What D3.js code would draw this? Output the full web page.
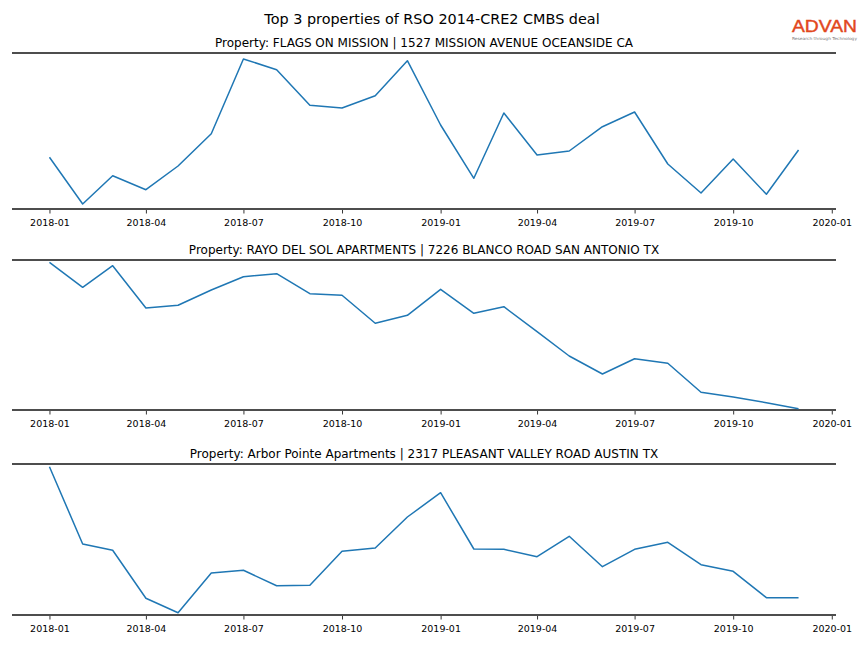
<!DOCTYPE html>
<html>
<head>
<meta charset="utf-8">
<script src="https://cdn.jsdelivr.net/npm/d3@7"></script>
<style>
  html, body { margin: 0; padding: 0; background: #fff; }
  svg { display: block; font-family: "DejaVu Sans", sans-serif; }
</style>
</head>
<body>
<svg id="chart" width="864" height="648"></svg>
<script>
// ---- Data (relative units) ----
const months = ["2018-01","2018-02","2018-03","2018-04","2018-05","2018-06","2018-07","2018-08","2018-09","2018-10","2018-11","2018-12",
                "2019-01","2019-02","2019-03","2019-04","2019-05","2019-06","2019-07","2019-08","2019-09","2019-10","2019-11","2019-12"];

const flagsOnMission = [51.7, 5, 33.3, 19.3, 43, 75.3, 150, 139.3, 103.7, 101, 113.3, 148.3,
                        84, 30.7, 96, 54, 58, 82.3, 97, 45, 16, 50, 14.7, 59];
const rayoDelSol = [147.7, 122.7, 144.3, 102, 104.7, 120, 133.3, 136.3, 116.3, 114.7, 86.7, 94.7,
                    120.7, 96.7, 103.3, 78.3, 54, 36, 51.3, 46.7, 17.7, 13, 7.3, 1.3];
const arborPointe = [148.3, 71, 64.7, 16.7, 2.3, 42, 44.7, 29.3, 29.7, 63.7, 67, 98,
                     122.3, 66, 65.7, 58.3, 78.7, 48.3, 65.7, 72.7, 50.3, 43.7, 17.3, 17.3];

const panelTitles = [
  "Property: FLAGS ON MISSION | 1527 MISSION AVENUE OCEANSIDE CA",
  "Property: RAYO DEL SOL APARTMENTS | 7226 BLANCO ROAD SAN ANTONIO TX",
  "Property: Arbor Pointe Apartments | 2317 PLEASANT VALLEY ROAD AUSTIN TX"
];
const panelYDomains = [[0, 156], [0, 150], [0, 151]];
const tickLabels = ["2018-01","2018-04","2018-07","2018-10","2019-01","2019-04","2019-07","2019-10","2020-01"];
const chartTitle = "Top 3 properties of RSO 2014-CRE2 CMBS deal";

// ---- Layout ----
const svg = d3.select("#chart");
const W = 864;
const left = 12, right = 836;
const panels = [
  { top: 53, bottom: 209, values: flagsOnMission },
  { top: 260, bottom: 410, values: rayoDelSol },
  { top: 464, bottom: 615, values: arborPointe }
];

const parse = d3.utcParse("%Y-%m");
const dates = months.map(parse);
const dMin = dates[0], dMax = dates[dates.length - 1];
const pad = (dMax - dMin) * 0.05;
const x = d3.scaleUtc()
  .domain([new Date(+dMin - pad), new Date(+dMax + pad)])
  .range([left, right]);

const tickDates = tickLabels.map(parse);

svg.append("text")
  .attr("x", W / 2).attr("y", 24)
  .attr("text-anchor", "middle")
  .attr("font-size", 14.4)
  .attr("fill", "#000")
  .text(chartTitle);

panels.forEach((p, i) => {
  const y = d3.scaleLinear().domain(panelYDomains[i]).range([p.bottom, p.top]);
  const g = svg.append("g");

  g.append("text")
    .attr("x", (left + right) / 2).attr("y", p.top - 6.5)
    .attr("text-anchor", "middle")
    .attr("font-size", 12)
    .attr("fill", "#000")
    .text(panelTitles[i]);

  // axis with ticks
  const axis = d3.axisBottom(x)
    .tickValues(tickDates)
    .tickFormat((d, k) => tickLabels[k])
    .tickSize(3.5)
    .tickPadding(6);
  const ax = g.append("g").attr("transform", `translate(0,${p.bottom + 1})`).call(axis);
  ax.select(".domain").remove();
  ax.selectAll(".tick line").attr("stroke", "#000").attr("stroke-width", 0.8);
  ax.selectAll(".tick text").attr("font-size", 9.5).attr("font-family", "DejaVu Sans").attr("fill", "#000");

  // spines
  g.append("line").attr("x1", left).attr("x2", right).attr("y1", p.top).attr("y2", p.top)
    .attr("stroke", "#4d4d4d").attr("stroke-width", 2);
  g.append("line").attr("x1", left).attr("x2", right).attr("y1", p.bottom).attr("y2", p.bottom)
    .attr("stroke", "#4d4d4d").attr("stroke-width", 2);

  const line = d3.line().x((d, k) => x(dates[k])).y(d => y(d));
  g.append("path")
    .datum(p.values)
    .attr("d", line)
    .attr("fill", "none")
    .attr("stroke", "#1f77b4")
    .attr("stroke-width", 1.5)
    .attr("stroke-linejoin", "round");
});

// logo
const logo = svg.append("g");
logo.append("text")
  .attr("x", 792).attr("y", 32)
  .attr("font-size", 16)
  .attr("font-family", "Liberation Sans, Arial, sans-serif")
  .attr("textLength", 65)
  .attr("lengthAdjust", "spacingAndGlyphs")
  .attr("fill", "#e2471c")
  .attr("stroke", "#e2471c")
  .attr("stroke-width", 0.4)
  .text("ADVAN");
logo.append("text")
  .attr("x", 792).attr("y", 39.8)
  .attr("font-size", 4)
  .attr("textLength", 65)
  .attr("lengthAdjust", "spacingAndGlyphs")
  .attr("fill", "#777")
  .text("Research through Technology");
</script>
</body>
</html>
